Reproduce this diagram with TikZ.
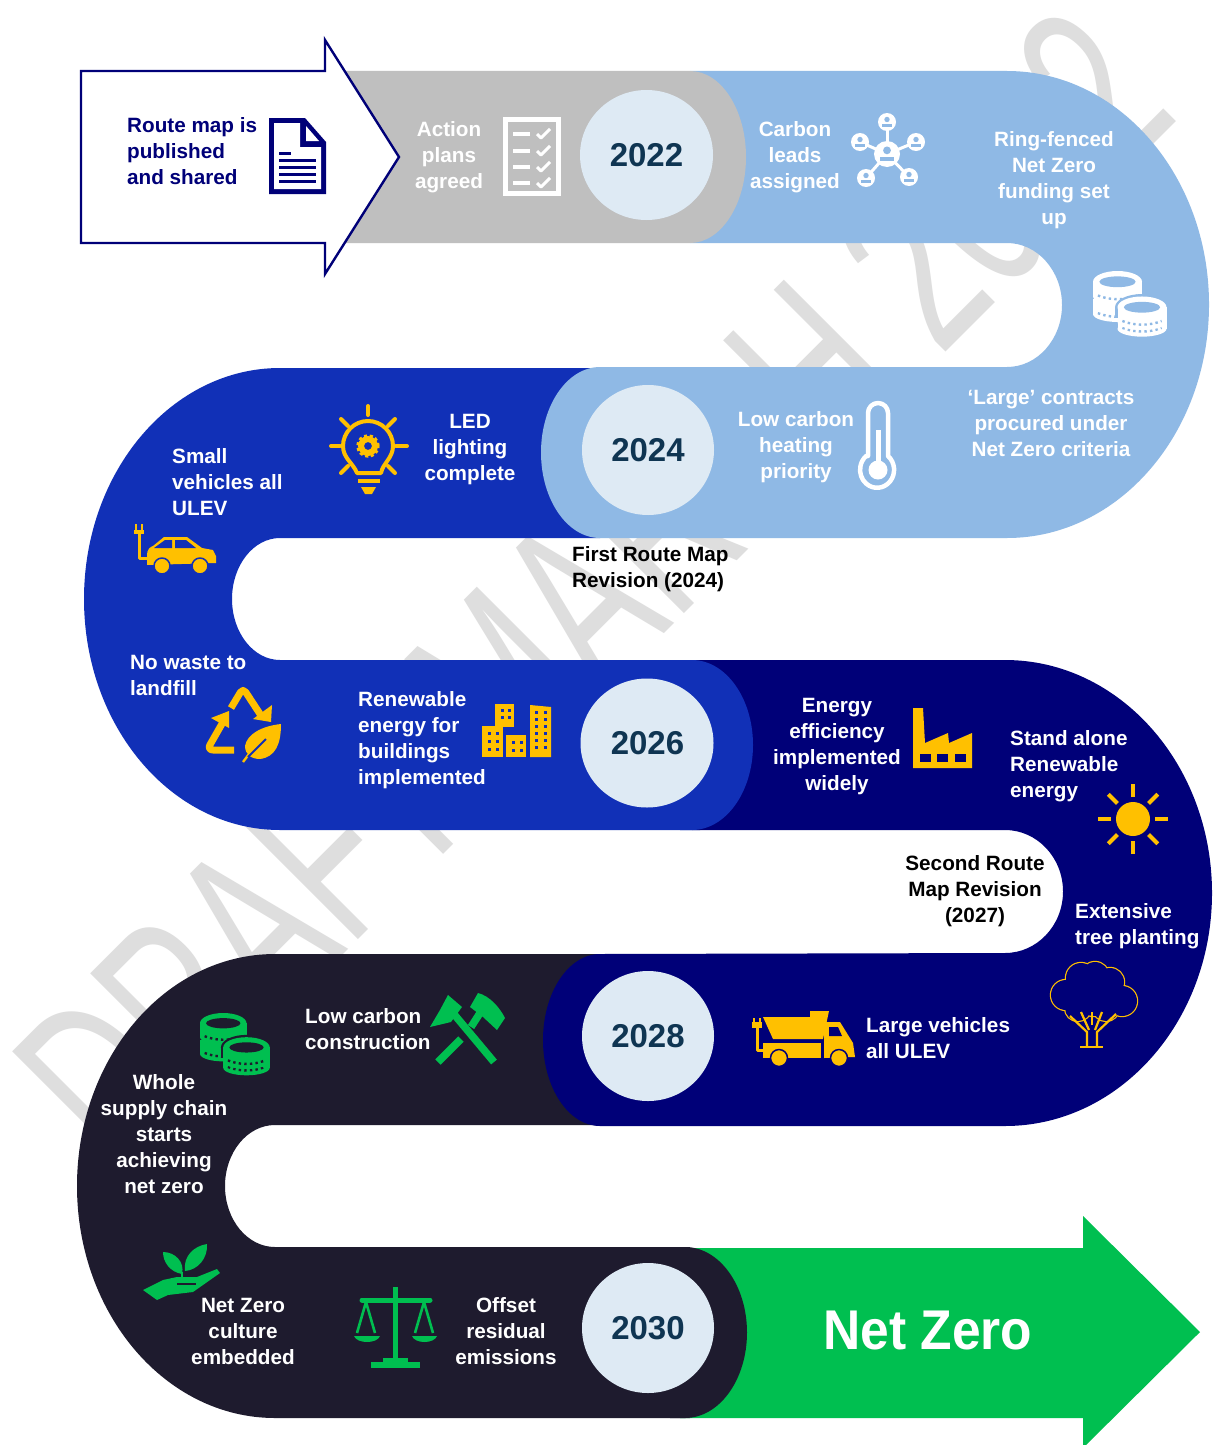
\documentclass[tikz,border=0pt]{standalone}
\usepackage{fontspec}
\setmainfont{Liberation Sans}
\definecolor{lblue}{HTML}{8FB9E5}
\definecolor{rgray}{HTML}{BFBFBF}
\definecolor{rblue}{HTML}{1130B7}
\definecolor{rnavy}{HTML}{000078}
\definecolor{rblack}{HTML}{1E1B2E}
\definecolor{rgreen}{HTML}{00BF50}
\definecolor{ryellow}{HTML}{FFC000}
\definecolor{disc}{HTML}{DEEAF4}
\definecolor{yeartxt}{HTML}{0F3552}
\definecolor{wmark}{HTML}{DEDEDE}
\tikzset{
  lab/.style={font=\fontsize{20.7}{26}\selectfont\bfseries,text=white,inner sep=0pt,align=center},
  labl/.style={lab,align=left},
  year/.style={font=\fontsize{33}{36}\selectfont\bfseries,text=yeartxt,inner sep=0pt},
  disk/.style={fill=disc},
}
% one coin band: #1 centre x, #2 top y, #3 fg, #4 bg
\newcommand{\coinband}[4]{%
  \fill[#3] (#1-25,#2) rectangle (#1+25,#2+15);
  \fill[#3] (#1,#2+15) ellipse [x radius=25pt,y radius=8pt];
  \draw[#4,line width=2.4pt,dash pattern=on 2.4pt off 3.2pt] (#1-20,#2+14) .. controls (#1-8,#2+19) and (#1+8,#2+19) .. (#1+20,#2+14);
}
\newcommand{\cointop}[4]{%
  \fill[#3] (#1,#2) ellipse [x radius=25pt,y radius=11pt];
  \fill[#4] (#1,#2) ellipse [x radius=18.5pt,y radius=5.5pt];
}
\newcommand{\coinsicon}[5]{%
\begin{scope}[shift={(#1,#2)},xscale=#5,yscale=#5]
  \coinband{25}{29}{#3}{#4}
  \coinband{25}{11}{#3}{#4}
  \cointop{25}{11}{#3}{#4}
  \fill[#4] (50,37) ellipse [x radius=27.5pt,y radius=13.5pt];
  \fill[#4] (22.5,37) rectangle (77.5,48);
  \coinband{50}{44}{#3}{#4}
  \coinband{50}{37}{#3}{#4}
  \cointop{50}{37}{#3}{#4}
\end{scope}}
\newcommand{\personicon}[4]{%
  \fill[white] (#1,#2) circle [radius=#3pt];
  \fill[#4] (#1,#2-#3*0.28) circle [radius=#3*0.3pt];
  \fill[#4] (#1-#3*0.55,#2+#3*0.55) rectangle (#1+#3*0.55,#2+#3*0.2);
}
\begin{document}
\begin{tikzpicture}[x=1pt,y=-1pt,line join=round]
\useasboundingbox (0,0) rectangle (1214,1445);
\clip (0,0) rectangle (1214,1445);
\fill[white] (0,0) rectangle (1214,1445);
% watermark
\node[rotate=45,xscale=0.64,transform shape,anchor=base west,inner sep=0pt,text=wmark,font=\fontsize{240}{240}\selectfont] (wm) at (120,1178) {DRAFT MARCH 2022};
% ribbons
\fill[rblue] (600,368) -- (280,368) arc[start angle=90,end angle=270,x radius=196pt,y radius=231pt]
  -- (700,830) -- (700,660) -- (280,660) arc[start angle=270,end angle=90,x radius=48pt,y radius=61pt]
  -- (600,538) -- cycle;
\fill[lblue] (690,71) -- (1007,71) arc[start angle=90,end angle=-90,x radius=202pt,y radius=233.5pt]
  -- (600,538) arc[start angle=270,end angle=90,x radius=59pt,y radius=85.5pt]
  -- (1007,367) arc[start angle=-90,end angle=90,x radius=55pt,y radius=62pt] -- (690,243) -- cycle;
\fill[rgray] (330,71) -- (690,71) arc[start angle=90,end angle=-90,x radius=56pt,y radius=86pt] -- (330,243) -- cycle;
\fill[rblack] (600,954) -- (275,954) arc[start angle=90,end angle=270,x radius=198pt,y radius=232pt]
  -- (690,1418) -- (690,1247) -- (275,1247) arc[start angle=270,end angle=90,x radius=50pt,y radius=61pt]
  -- (600,1125) -- cycle;
\fill[rnavy] (692,660) -- (1005,660) arc[start angle=90,end angle=-90,x radius=207pt,y radius=233pt]
  -- (600,1126) arc[start angle=270,end angle=90,x radius=57pt,y radius=86pt]
  -- (1005,953) arc[start angle=-90,end angle=90,x radius=58pt,y radius=61.5pt] -- (692,830) -- cycle;
\fill[rblue] (680,660) -- (692,660) arc[start angle=90,end angle=-90,x radius=61pt,y radius=85pt] -- (680,830) -- cycle;
% green arrow
\fill[rgreen] (680,1248) -- (1083,1248) -- (1083,1216) -- (1200,1332) -- (1083,1448) -- (1083,1418) -- (680,1418) -- cycle;
\fill[rblack] (670,1247) -- (685,1247) arc[start angle=90,end angle=-90,x radius=62pt,y radius=85.5pt] -- (670,1418) -- cycle;
% start arrow
\draw[rnavy,fill=white,line width=2.4pt,line join=miter] (81,71) -- (325,71) -- (325,40) -- (399,157) -- (325,274) -- (325,243) -- (81,243) -- cycle;
% year discs
\fill[disk] (646.5,155) ellipse [x radius=66.5pt,y radius=65pt];
\fill[disk] (648,450) ellipse [x radius=66pt,y radius=65pt];
\fill[disk] (647,743) ellipse [x radius=66.5pt,y radius=64.5pt];
\fill[disk] (648,1036) ellipse [x radius=66pt,y radius=65pt];
\fill[disk] (648,1328) ellipse [x radius=66pt,y radius=65pt];
\node[year] (y22) at (646.5,155) {2022};
\node[year] (y24) at (648,450) {2024};
\node[year] (y26) at (647.5,743) {2026};
\node[year] (y28) at (648,1036) {2028};
\node[year] (y30) at (648,1328) {2030};
% labels
\node[labl,text=rnavy,anchor=west] (route) at (127,151) {Route map is\\published\\and shared};
\node[lab] (action) at (449,157) {Action\\plans\\agreed};
\node[lab] (carbon) at (795,157) {Carbon\\leads\\assigned};
\node[lab] (ring) at (1054,180) {Ring-fenced\\Net Zero\\funding set\\up};
\node[lab] (large) at (1051,423) {‘Large’ contracts\\procured under\\Net Zero criteria};
\node[lab] (heat) at (796,447) {Low carbon\\heating\\priority};
\node[lab] (led) at (470,450) {LED\\lighting\\complete};
\node[labl,anchor=west] (small) at (172,482) {Small\\vehicles all\\ULEV};
\node[labl,text=black,anchor=west] (first) at (572,569) {First Route Map\\Revision (2024)};
\node[labl,anchor=west] (waste) at (130,675) {No waste to\\landfill};
\node[labl,anchor=west] (renew) at (358,740) {Renewable\\energy for\\buildings\\implemented};
\node[lab] (energy) at (837,747) {Energy\\efficiency\\implemented\\widely};
\node[labl,anchor=west] (stand) at (1010,766) {Stand alone\\Renewable\\energy};
\node[lab,text=black] (second) at (975,891) {Second Route\\Map Revision\\(2027)};
\node[labl,anchor=west] (tree) at (1075,926) {Extensive\\tree planting};
\node[labl,anchor=west] (lv) at (866,1038) {Large vehicles\\all ULEV};
\node[labl,anchor=west] (lcc) at (305,1029) {Low carbon\\construction};
\node[lab] (whole) at (164,1134) {Whole\\supply chain\\starts\\achieving\\net zero};
\node[lab] (culture) at (243,1331) {Net Zero\\culture\\embedded};
\node[lab] (offset) at (506,1331) {Offset\\residual\\emissions};
\node[xscale=0.92,transform shape,font=\fontsize{56}{60}\selectfont\bfseries,text=white,inner sep=0pt] (nz) at (928,1330) {Net Zero};
% document icon
\fill[rnavy] (269,118) -- (305,118) -- (326,142) -- (326,194) -- (269,194) -- cycle;
\fill[white] (274,123) -- (300,123) -- (300,147) -- (321,147) -- (321,189) -- (274,189) -- cycle;
\fill[white] (306,126) -- (319,141) -- (306,141) -- cycle;
\foreach \yy in {160,167,174,181} \draw[rnavy,line width=3pt] (279,\yy) -- (316,\yy);
\draw[rnavy,line width=3pt] (279,153) -- (291,153);
% checklist icon
\draw[white,line width=5pt,line join=miter] (505,119) rectangle (558,193);
\foreach \yy in {134,151,167,183} {
  \draw[white,line width=3.5pt] (513,\yy) -- (530,\yy);
  \draw[white,line width=3pt] (537,\yy) -- (541,\yy+4) -- (550,\yy-5);
}
% network icon
\foreach \xx/\yy in {887/122,860/142,916/142,866/178,909/177} \draw[white,line width=3pt] (887,154) -- (\xx,\yy);
\personicon{887}{122}{9}{lblue}
\personicon{860}{142}{9}{lblue}
\personicon{916}{142}{9}{lblue}
\personicon{866}{178}{9}{lblue}
\personicon{909}{177}{9}{lblue}
\personicon{887}{154}{13}{lblue}
% coins
\coinsicon{1093}{271}{white}{lblue}{0.98}
\coinsicon{200}{1013}{rgreen}{rblack}{0.93}
% thermometer
\draw[white,line width=4.5pt,fill=lblue] (868,456) -- (868,413) arc[start angle=180,end angle=0,x radius=10pt,y radius=10pt] -- (888,456) arc[start angle=50,end angle=-230,x radius=17pt,y radius=18pt] -- cycle;
\fill[white] (878,470) circle [radius=9.5pt];
\draw[white,line width=5pt] (878,430) -- (878,465);
% bulb
\begin{scope}[ryellow]
\draw[line width=4pt,fill=rblue] (357,473) -- (381,473) .. controls (383,463) and (393,458) .. (393,446) arc[start angle=0,end angle=180,radius=25pt] .. controls (343,458) and (353,463) .. (357,473) -- cycle;
\draw[line width=4pt] (358,481) -- (380,481);
\fill (361,487) -- (376,487) -- (372,494) -- (365,494) -- cycle;
\foreach \ax/\ay/\bx/\by in {368/406/368/415,331/446/340/446,396/446/407/446,341/419/348/426,395/419/388/426,341/473/348/466,395/473/388/466} \draw[line width=4pt,line cap=round] (\ax,\ay) -- (\bx,\by);
\draw[line width=3.5pt,dash pattern=on 3pt off 2.5pt] (368,446) circle [radius=10pt];
\fill[even odd rule] (368,446) circle [radius=10pt] (368,446) circle [radius=4pt];
\end{scope}
% car
\begin{scope}[ryellow]
\fill (134,530) rectangle (144,534); \fill (135,524) rectangle (137,530); \fill (141,524) rectangle (143,530);
\draw[line width=3pt] (139,534) -- (139,558) -- (150,558);
\fill (147,556) .. controls (147,549) and (150,547) .. (153,546) -- (164,537) -- (187,537) -- (202,548) -- (213,550) -- (216,556) -- (216,563) -- (147,565) -- cycle;
\fill[rblue] (154,548) -- (165,540) -- (172,540) -- (172,548) -- cycle;
\fill[rblue] (175,540) -- (186,540) -- (196,548) -- (175,548) -- cycle;
\draw[fill=ryellow,draw=rblue,line width=1.5pt] (162,566) circle [radius=8pt];
\draw[fill=ryellow,draw=rblue,line width=1.5pt] (200,566) circle [radius=8pt];
\end{scope}
% recycle + leaf
\begin{scope}[ryellow]
\draw[line width=7pt,rounded corners=5pt] (231,708) -- (243,688) -- (262,717);
\fill (253,719) -- (272,705) -- (271,722) -- cycle;
\draw[line width=7pt,rounded corners=6pt] (234,750) -- (207,750) -- (223,722);
\fill (211,718) -- (229,711) -- (229,728) -- cycle;
\fill (281,724) .. controls (262,726) and (247,734) .. (245,746) .. controls (245,755) and (252,759) .. (260,759) .. controls (275,757) and (281,745) .. (281,724) -- cycle;
\draw[line width=2.4pt] (243,762) -- (249,754);
\draw[rblue,line width=2pt] (248,757) -- (266,739);
\end{scope}
% buildings
\fill[ryellow] (495,704) rectangle (514,727);
\fill[ryellow] (482,726) rectangle (503,757);
\fill[ryellow] (506,735) rectangle (526,757);
\fill[ryellow] (530,705) -- (551,707) -- (551,757) -- (530,757) -- cycle;
\foreach \xx in {501,508} \foreach \yy in {709,716} \fill[rblue] (\xx,\yy) rectangle (\xx+3,\yy+3);
\foreach \xx in {488,496} \foreach \yy in {732,740,748} \fill[rblue] (\xx,\yy) rectangle (\xx+3,\yy+3);
\foreach \xx in {512,520} \foreach \yy in {741,749} \fill[rblue] (\xx,\yy) rectangle (\xx+3,\yy+3);
\foreach \xx in {535,544} \foreach \yy in {711,718,725,732,739,746} \fill[rblue] (\xx,\yy) rectangle (\xx+3,\yy+3);
% factory
\fill[ryellow] (913,768) -- (913,708) -- (923,708) -- (925,743) -- (948,733) -- (949,743) -- (972,733) -- (972,768) -- cycle;
\foreach \xx in {920,937,955} \fill[rnavy] (\xx,754) rectangle (\xx+11,762);
% sun
\fill[ryellow] (1133,819) circle [radius=17pt];
\foreach \aa in {0,45,...,315} \draw[ryellow,line width=4pt] (1133,819) ++(\aa:22pt) -- ++(\aa:13pt);
% tree
\foreach \xx/\yy/\rr in {1066/995/15,1081/978/15,1095/976/14,1110/982/14,1122/1001/15,1106/1008/13,1078/1008/13,1094/996/20}
  \draw[ryellow,line width=2.4pt] (\xx,\yy) circle [radius=\rr pt];
\foreach \xx/\yy/\rr in {1066/995/15,1081/978/15,1095/976/14,1110/982/14,1122/1001/15,1106/1008/13,1078/1008/13,1094/996/20}
  \fill[rnavy] (\xx,\yy) circle [radius=\rr pt];
\draw[ryellow,line width=2.2pt] (1080,1047) -- (1103,1047);
\draw[ryellow,line width=2.2pt] (1087,1047) -- (1087,1032) -- (1070,1016);
\draw[ryellow,line width=2.2pt] (1097,1047) -- (1097,1032) -- (1116,1014);
\draw[ryellow,line width=2.2pt] (1089,1030) -- (1081,1012);
\draw[ryellow,line width=2.2pt] (1095,1030) -- (1102,1012);
\draw[ryellow,line width=2.2pt] (1092,1025) -- (1092,1012);
% truck
\fill[ryellow] (752,1022) rectangle (762,1028); \fill[ryellow] (753,1018) rectangle (755,1022); \fill[ryellow] (759,1018) rectangle (761,1022);
\draw[ryellow,line width=3pt] (757,1028) -- (757,1050) -- (765,1050);
\fill[ryellow] (763,1017) -- (810,1017) -- (810,1011) -- (829,1011) -- (823,1039) -- (773,1039) -- cycle;
\fill[ryellow] (763,1043) rectangle (821,1058);
\fill[ryellow] (824,1022) -- (840,1022) -- (853,1043) -- (855,1057) -- (824,1058) -- cycle;
\fill[rnavy] (829,1027) -- (838,1027) -- (842,1036) -- (829,1036) -- cycle;
\draw[fill=ryellow,draw=rnavy,line width=1.5pt] (779,1058) circle [radius=8.5pt];
\draw[fill=ryellow,draw=rnavy,line width=1.5pt] (839,1058) circle [radius=8.5pt];
% hammers
\begin{scope}[rgreen]
\draw[line width=7.5pt] (453,1013) -- (494,1062);
\fill (430,1027) -- (440,1010) -- (448,995) -- (462,1007) -- (451,1022) -- cycle;
\fill (478,993) .. controls (490,996) and (500,1008) .. (505,1018) -- (497,1030) -- (483,1017) -- (470,1007) -- cycle;
\draw[line width=7.5pt] (480,1013) -- (471,1027);
\draw[line width=7.5pt] (461,1039) -- (438,1062);
\end{scope}
% plant in hand
\begin{scope}[rgreen]
\fill (163,1252) .. controls (175,1252) and (185,1262) .. (182,1274) .. controls (170,1272) and (163,1262) .. (163,1252) -- cycle;
\fill (207,1244) .. controls (208,1258) and (198,1270) .. (185,1271) .. controls (183,1256) and (194,1246) .. (207,1244) -- cycle;
\draw[line width=2pt] (182,1272) -- (182,1277);
\fill (143,1290) -- (163,1280) -- (177,1277) -- (197,1277) -- (217,1269) -- (220,1273) -- (193,1292) -- (168,1295) -- (157,1300) -- cycle;
\draw[rblack,line width=1.5pt] (177,1284) -- (196,1284);
\end{scope}
% scales
\begin{scope}[rgreen]
\draw[line width=5pt] (395,1287) -- (395,1362);
\draw[line width=5pt,line cap=round] (362,1300) -- (430,1300);
\fill (371,1362) rectangle (420,1368);
\fill (383,1358) rectangle (408,1362);
\draw[line width=2.6pt] (357,1333) -- (366,1302) -- (375,1333);
\draw[line width=2.6pt] (415,1333) -- (424,1302) -- (433,1333);
\fill (354,1336) -- (380,1336) .. controls (377,1344) and (357,1344) .. (354,1336) -- cycle;
\fill (412,1336) -- (437,1336) .. controls (434,1344) and (415,1344) .. (412,1336) -- cycle;
\end{scope}
\end{tikzpicture}
\end{document}
